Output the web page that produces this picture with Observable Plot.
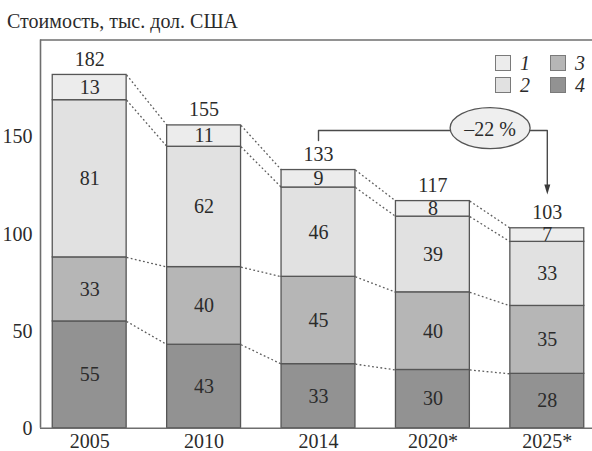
<!DOCTYPE html>
<html>
<head>
<meta charset="utf-8">
<script src="https://cdn.jsdelivr.net/npm/d3@7"></script>
<script src="https://cdn.jsdelivr.net/npm/@observablehq/plot@0.6"></script>
<style>
  html, body { margin: 0; padding: 0; background: #fff; overflow: hidden; }
  #wrap { position: relative; width: 592px; height: 451px; overflow: hidden; }
  #title { position: absolute; left: 7px; top: 10px; font-family: "Liberation Serif", "Times New Roman", Tinos, "DejaVu Serif", serif; font-size: 20px; color: #2b2b2b; white-space: nowrap; }
  #chart { position: absolute; left: 0; top: 34px; }
  #legend { position: absolute; left: 495px; top: 55px; display: grid; grid-template-rows: 16px 16px; grid-template-columns: 55px auto; row-gap: 6px; grid-auto-flow: column; font-family: "Liberation Serif", "Times New Roman", Tinos, "DejaVu Serif", serif; font-style: italic; font-size: 20px; color: #2b2b2b; }
  #legend .item { display: flex; align-items: center; height: 16px; }
  #legend .sw { width: 16px; height: 16px; box-sizing: border-box; border: 1px solid #7a7a7a; }
  #legend .lab { margin-left: 9px; line-height: 16px; }
</style>
</head>
<body>
<div id="wrap">
  <div id="title"></div>
  <div id="chart"></div>
  <div id="legend"></div>
</div>
<script>
// Cost per unit, thousand USD, by component (1 on top ... 4 at the bottom)
const titleText = "Стоимость, тыс. дол. США";
const years = ["2005", "2010", "2014", "2020*", "2025*"];
const series = ["1", "2", "3", "4"];
const values1 = [13, 11, 9, 8, 7];
const values2 = [81, 62, 46, 39, 33];
const values3 = [33, 40, 45, 40, 35];
const values4 = [55, 43, 33, 30, 28];
const totals = [182, 155, 133, 117, 103];
const changeLabel = "–22 %";
const yTicks = [0, 50, 100, 150];
const fills = ["#ececec", "#e1e1e1", "#b6b6b6", "#929292"];

const SERIF = "'Liberation Serif', 'Times New Roman', Tinos, 'DejaVu Serif', serif";

// Layout constants
const HW = 0.323;            // half bar width, in category units
const X_DOMAIN = [-0.43, 4.43];
const Y_MAX = 200;

// Stack segments bottom-up: 4, 3, 2, 1
const stackOrder = [["4", values4], ["3", values3], ["2", values2], ["1", values1]];
const segments = [];
years.forEach((year, i) => {
  let base = 0;
  for (const [s, vals] of stackOrder) {
    segments.push({i, year, series: s, value: vals[i], y1: base, y2: base + vals[i]});
    base += vals[i];
  }
});
const segAt = (i, k) => segments[i * stackOrder.length + k];

// Dotted connectors between matching segment tops of neighbouring bars
const links = [];
for (let i = 0; i < years.length - 1; i++) {
  for (let k = 0; k < stackOrder.length; k++) {
    links.push({x1: i + HW, x2: i + 1 - HW, y1: segAt(i, k).y2, y2: segAt(i + 1, k).y2});
  }
}

// Total labels sit above each stack
const tops = years.map((y, i) => ({i, top: segAt(i, stackOrder.length - 1).y2, label: String(totals[i])}));

// Change annotation: from 2014 over to 2025*
const fromIdx = years.indexOf("2014"), toIdx = years.indexOf("2025*");
const arrowPath = [
  {x: fromIdx, y: 148.2},
  {x: fromIdx, y: 153.4},
  {x: toIdx, y: 153.4},
  {x: toIdx, y: 124.5}
];
const arrowTip = [{x: toIdx, y: 120.4}];
const badge = [{x: (fromIdx + toIdx) / 2 + 0.5, y: 154.6}];

const ellipseSymbol = {
  draw(ctx) {
    const rx = 40, ry = 20.5, k = 0.5523;
    ctx.moveTo(rx, 0);
    ctx.bezierCurveTo(rx, ry * k, rx * k, ry, 0, ry);
    ctx.bezierCurveTo(-rx * k, ry, -rx, ry * k, -rx, 0);
    ctx.bezierCurveTo(-rx, -ry * k, -rx * k, -ry, 0, -ry);
    ctx.bezierCurveTo(rx * k, -ry, rx, -ry * k, rx, 0);
    ctx.closePath();
  }
};
const arrowHeadSymbol = {
  draw(ctx) {
    ctx.moveTo(0, 0);
    ctx.lineTo(-3, -10);
    ctx.lineTo(3, -10);
    ctx.closePath();
  }
};

const chart = Plot.plot({
  width: 592,
  height: 424,
  marginLeft: 40,
  marginRight: 0,
  marginTop: 5.5,
  marginBottom: 30.3,
  style: {fontFamily: SERIF, fontSize: "20px", color: "#2b2b2b", background: "#fff"},
  x: {domain: X_DOMAIN, range: [40, 596]},
  y: {domain: [0, Y_MAX]},
  color: {domain: series, range: fills},
  marks: [
    Plot.link(links, {x1: "x1", x2: "x2", y1: "y1", y2: "y2", stroke: "#5e5e5e", strokeWidth: 1.3, strokeDasharray: "1.8,2.4"}),
    Plot.rect(segments, {x1: d => d.i - HW, x2: d => d.i + HW, y1: "y1", y2: "y2", fill: "series", stroke: "#565656", strokeWidth: 1.3}),
    Plot.text(segments, {x: "i", y: d => (d.y1 + d.y2) / 2, text: d => String(d.value), lineAnchor: "middle", fontFamily: SERIF}),
    Plot.text(tops, {x: "i", y: "top", text: "label", lineAnchor: "middle", dy: -15.5, fontFamily: SERIF}),
    Plot.line(arrowPath, {x: "x", y: "y", stroke: "#4a4a4a", strokeWidth: 1.4, curve: "linear"}),
    Plot.dot(arrowTip, {x: "x", y: "y", symbol: arrowHeadSymbol, fill: "#3a3a3a", stroke: "none"}),
    Plot.dot(badge, {x: "x", y: "y", symbol: ellipseSymbol, fill: "#efefef", stroke: "#555", strokeWidth: 1.3}),
    Plot.text(badge, {x: "x", y: "y", text: () => changeLabel, lineAnchor: "middle", dy: 1, fontFamily: SERIF}),
    Plot.ruleY([0, Y_MAX], {stroke: "#6e6e6e", strokeWidth: 1.6}),
    Plot.ruleX([X_DOMAIN[0]], {y1: 0, y2: Y_MAX, stroke: "#6e6e6e", strokeWidth: 1.6}),
    Plot.axisY({ticks: yTicks, tickSize: 0, tickPadding: 8, label: null, fontSize: 20, fontFamily: SERIF}),
    Plot.axisX({ticks: years.map((_, i) => i), tickFormat: i => years[i], tickSize: 0, tickPadding: 6, label: null, fontSize: 20, fontFamily: SERIF})
  ]
});
document.getElementById("chart").appendChild(chart);
document.getElementById("title").textContent = titleText;

// Legend: two columns (1, 2) and (3, 4)
const legend = document.getElementById("legend");
series.forEach((s, i) => {
  const item = document.createElement("div");
  item.className = "item";
  const sw = document.createElement("div");
  sw.className = "sw";
  sw.style.background = fills[i];
  const lab = document.createElement("span");
  lab.className = "lab";
  lab.textContent = s;
  item.appendChild(sw);
  item.appendChild(lab);
  legend.appendChild(item);
});
</script>
</body>
</html>
